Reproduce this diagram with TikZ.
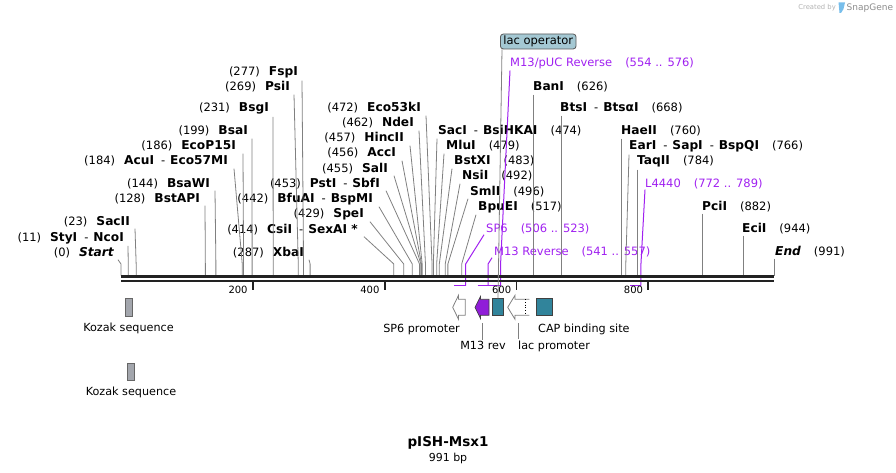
\documentclass[tikz,border=0pt]{standalone}
\usepackage{fontspec}
\setmainfont{DejaVu Sans}
\usetikzlibrary{positioning}

\definecolor{cutgray}{RGB}{128,128,128}
\definecolor{primerpurple}{RGB}{160,32,240}
\definecolor{bindteal}{RGB}{49,132,155}
\definecolor{kozakgray}{RGB}{163,166,173}
\definecolor{opfill}{RGB}{164,200,211}
\definecolor{dnablack}{RGB}{34,34,34}
\definecolor{logoblue}{RGB}{120,190,235}

% bp -> x (px)
\newcommand{\bpx}[1]{121+#1*0.659}
\newcommand{\numgap}{\hspace{9pt}}
\newcommand{\rgap}{\hspace{13pt}}
\newcommand{\dsh}{\hspace{7pt}-\hspace{5pt}}
\newcommand{\ename}[1]{{\fontsize{12.2}{13}\selectfont\bfseries #1}}

\tikzset{
  enzL/.style={font=\fontsize{11.5}{13}\selectfont, inner sep=0pt, anchor=base east},
  enzR/.style={font=\fontsize{11.5}{13}\selectfont, inner sep=0pt, anchor=base west},
  primerlbl/.style={enzR, text=primerpurple},
  cutline/.style={draw=cutgray, line width=0.8pt},
  primerline/.style={draw=primerpurple, line width=1pt},
  primerbar/.style={draw=primerpurple, line width=1.8pt},
  dna/.style={draw=dnablack, line width=2.4pt},
  rulertick/.style={draw=dnablack, line width=1.8pt},
  rulerlbl/.style={font=\fontsize{10}{12}\selectfont, inner sep=0pt, anchor=base east},
  featlbl/.style={font=\fontsize{11.2}{13}\selectfont, inner sep=0pt},
  featline/.style={draw=cutgray, line width=0.8pt},
  promoter/.style={draw=gray, fill=white, line width=0.8pt},
  bindbox/.style={draw=black!75, fill=bindteal, line width=0.7pt, inner sep=0pt, minimum height=17pt},
  kozakbox/.style={draw=black!60, fill=kozakgray, line width=0.7pt, inner sep=0pt},
  opbox/.style={draw=black!65, fill=opfill, rounded corners=3pt, line width=0.8pt,
    font=\fontsize{11.5}{13}\selectfont, inner xsep=3pt, inner ysep=0pt, minimum height=15pt}
}

\begin{document}
\begin{tikzpicture}[x=1pt,y=-1pt]
  \useasboundingbox (0,0) rectangle (896,473);

  % Cut sites on the sequence
  \coordinate (knee) at (0,264);
  \coordinate (c0) at ({\bpx{0}},275.5);
  \coordinate (c11) at ({\bpx{11}},275.5);
  \coordinate (c23) at ({\bpx{23}},275.5);
  \coordinate (c128) at ({\bpx{128}},275.5);
  \coordinate (c144) at ({\bpx{144}},275.5);
  \coordinate (c184) at ({\bpx{184}},275.5);
  \coordinate (c186) at ({\bpx{186}},275.5);
  \coordinate (c199) at ({\bpx{199}},275.5);
  \coordinate (c231) at ({\bpx{231}},275.5);
  \coordinate (c269) at ({\bpx{269}},275.5);
  \coordinate (c277) at ({\bpx{277}},275.5);
  \coordinate (c287) at ({\bpx{287}},275.5);
  \coordinate (c414) at ({\bpx{414}},275.5);
  \coordinate (c429) at ({\bpx{429}},275.5);
  \coordinate (c442) at ({\bpx{442}},275.5);
  \coordinate (c453) at ({\bpx{453}},275.5);
  \coordinate (c455) at ({\bpx{455}},275.5);
  \coordinate (c456) at ({\bpx{456}},275.5);
  \coordinate (c457) at ({\bpx{457}},275.5);
  \coordinate (c462) at ({\bpx{462}},275.5);
  \coordinate (c472) at ({\bpx{472}},275.5);
  \coordinate (c474) at ({\bpx{474}},275.5);
  \coordinate (c479) at ({\bpx{479}},275.5);
  \coordinate (c483) at ({\bpx{483}},275.5);
  \coordinate (c492) at ({\bpx{492}},275.5);
  \coordinate (c496) at ({\bpx{496}},275.5);
  \coordinate (c517) at ({\bpx{517}},275.5);
  \coordinate (c626) at ({\bpx{626}},275.5);
  \coordinate (c668) at ({\bpx{668}},275.5);
  \coordinate (c760) at ({\bpx{760}},275.5);
  \coordinate (c766) at ({\bpx{766}},275.5);
  \coordinate (c784) at ({\bpx{784}},275.5);
  \coordinate (c882) at ({\bpx{882}},275.5);
  \coordinate (c944) at ({\bpx{944}},275.5);
  \coordinate (c991) at ({\bpx{991}},275.5);

  % Primer ends
  \coordinate (p506) at ({\bpx{506}},285.5);
  \coordinate (p523) at ({\bpx{523}},285.5);
  \coordinate (p541) at ({\bpx{541}},285.5);
  \coordinate (p557) at ({\bpx{557}},285.5);
  \coordinate (p554) at ({\bpx{554}},285.5);
  \coordinate (p576) at ({\bpx{576}},285.5);
  \coordinate (p772) at ({\bpx{772}},285.5);
  \coordinate (p789) at ({\bpx{789}},285.5);

  % Enzyme labels, left of their sites
  \node[enzL] (start) at (114,256) {(0)\numgap\ename{\itshape Start}};
  \node[enzL] (styi) at (124,241) {(11)\numgap\ename{StyI}\dsh\ename{NcoI}};
  \node[enzL] (sacii) at (130,225) {(23)\numgap\ename{SacII}};
  \node[enzL] (bstapi) at (200,202) {(128)\numgap\ename{BstAPI}};
  \node[enzL] (bsawi) at (210,187) {(144)\numgap\ename{BsaWI}};
  \node[enzL] (acui) at (228,165) {(184)\numgap\ename{AcuI}\dsh\ename{Eco57MI}};
  \node[enzL] (ecop) at (236,150) {(186)\numgap\ename{EcoP15I}};
  \node[enzL] (bsai) at (248,135) {(199)\numgap\ename{BsaI}};
  \node[enzL] (bsgi) at (269,112) {(231)\numgap\ename{BsgI}};
  \node[enzL] (psii) at (290,91) {(269)\numgap\ename{PsiI}};
  \node[enzL] (fspi) at (298,76) {(277)\numgap\ename{FspI}};
  \node[enzL] (xbai) at (304,256) {(287)\numgap\ename{XbaI}};
  \node[enzL] (csii) at (358,233) {(414)\numgap\ename{CsiI}\dsh\ename{SexAI *}};
  \node[enzL] (spei) at (364,217) {(429)\numgap\ename{SpeI}};
  \node[enzL] (bfuai) at (373,202) {(442)\numgap\ename{BfuAI}\dsh\ename{BspMI}};
  \node[enzL] (psti) at (380,187) {(453)\numgap\ename{PstI}\dsh\ename{SbfI}};
  \node[enzL] (sali) at (388,172) {(455)\numgap\ename{SalI}};
  \node[enzL] (acci) at (396,157) {(456)\numgap\ename{AccI}};
  \node[enzL] (hincii) at (404,142) {(457)\numgap\ename{HincII}};
  \node[enzL] (ndei) at (414,127) {(462)\numgap\ename{NdeI}};
  \node[enzL] (ecok) at (421,112) {(472)\numgap\ename{Eco53kI}};

  % Enzyme labels, right of their sites
  \node[enzR] (saci) at (438,135) {\ename{SacI}\dsh\ename{BsiHKAI}\rgap(474)};
  \node[enzR] (mlui) at (446,150) {\ename{MluI}\rgap(479)};
  \node[enzR] (bstxi) at (454,165) {\ename{BstXI}\rgap(483)};
  \node[enzR] (nsii) at (462,180) {\ename{NsiI}\rgap(492)};
  \node[enzR] (smli) at (470,195) {\ename{SmlI}\rgap(496)};
  \node[enzR] (bpuei) at (478,210) {\ename{BpuEI}\rgap(517)};
  \node[enzR] (bani) at (533,91) {\ename{BanI}\rgap(626)};
  \node[enzR] (btsi) at (560,112) {\ename{BtsI}\dsh\ename{BtsαI}\rgap(668)};
  \node[enzR] (haeii) at (621,135) {\ename{HaeII}\rgap(760)};
  \node[enzR] (eari) at (629,150) {\ename{EarI}\dsh\ename{SapI}\dsh\ename{BspQI}\rgap(766)};
  \node[enzR] (taqii) at (637,165) {\ename{TaqII}\rgap(784)};
  \node[enzR] (pcii) at (702,210) {\ename{PciI}\rgap(882)};
  \node[enzR] (ecii) at (742,232) {\ename{EciI}\rgap(944)};
  \node[enzR] (endr) at (775,255) {\ename{\itshape End}\rgap(991)};

  % Primer labels
  \node[primerlbl] (m13puc) at (510,67) {M13/pUC Reverse\rgap(554 .. 576)};
  \node[primerlbl] (sp6) at (486,232) {SP6\rgap(506 .. 523)};
  \node[primerlbl] (m13r) at (494,255) {M13 Reverse\rgap(541 .. 557)};
  \node[primerlbl] (l4440) at (645,187) {L4440\rgap(772 .. 789)};

  % Connect the labels to the sites
  \draw[cutline] ([xshift=4pt,yshift=-2pt]start.south east) -- (c0 |- knee) -- (c0);
  \draw[cutline] ([xshift=4pt,yshift=-2pt]styi.south east) -- (c11 |- knee) -- (c11);
  \draw[cutline] ([xshift=5pt,yshift=-2pt]sacii.south east) -- (c23 |- knee) -- (c23);
  \draw[cutline] ([xshift=5pt,yshift=-2pt]bstapi.south east) -- (c128 |- knee) -- (c128);
  \draw[cutline] ([xshift=5pt,yshift=-2pt]bsawi.south east) -- (c144 |- knee) -- (c144);
  \draw[cutline] ([xshift=6pt,yshift=-2pt]acui.south east) -- (c184 |- knee) -- (c184);
  \draw[cutline] ([xshift=7pt,yshift=-2pt]ecop.south east) -- (c186 |- knee) -- (c186);
  \draw[cutline] ([xshift=4pt,yshift=-2pt]bsai.south east) -- (c199 |- knee) -- (c199);
  \draw[cutline] ([xshift=4pt,yshift=-2pt]bsgi.south east) -- (c231 |- knee) -- (c231);
  \draw[cutline] ([xshift=4pt,yshift=-2pt]psii.south east) -- (c269 |- knee) -- (c269);
  \draw[cutline] ([xshift=4pt,yshift=-2pt]fspi.south east) -- (c277 |- knee) -- (c277);
  \draw[cutline] ([xshift=5pt,yshift=-2pt]xbai.south east) -- (c287 |- knee) -- (c287);
  \draw[cutline] ([xshift=6pt,yshift=-2pt]csii.south east) -- (c414 |- knee) -- (c414);
  \draw[cutline] ([xshift=6pt,yshift=-2pt]spei.south east) -- (c429 |- knee) -- (c429);
  \draw[cutline] ([xshift=6pt,yshift=-2pt]bfuai.south east) -- (c442 |- knee) -- (c442);
  \draw[cutline] ([xshift=6pt,yshift=-2pt]psti.south east) -- (c453 |- knee) -- (c453);
  \draw[cutline] ([xshift=6pt,yshift=-2pt]sali.south east) -- (c455 |- knee) -- (c455);
  \draw[cutline] ([xshift=6pt,yshift=-2pt]acci.south east) -- (c456 |- knee) -- (c456);
  \draw[cutline] ([xshift=6pt,yshift=-2pt]hincii.south east) -- (c457 |- knee) -- (c457);
  \draw[cutline] ([xshift=5pt,yshift=-2pt]ndei.south east) -- (c462 |- knee) -- (c462);
  \draw[cutline] ([xshift=5pt,yshift=-2pt]ecok.south east) -- (c472 |- knee) -- (c472);
  \draw[cutline] ([xshift=-1pt,yshift=-2pt]saci.south west) -- (c474 |- knee) -- (c474);
  \draw[cutline] ([xshift=-2pt,yshift=-2pt]mlui.south west) -- (c479 |- knee) -- (c479);
  \draw[cutline] ([xshift=-2pt,yshift=-2pt]bstxi.south west) -- (c483 |- knee) -- (c483);
  \draw[cutline] ([xshift=-2pt,yshift=-2pt]nsii.south west) -- (c492 |- knee) -- (c492);
  \draw[cutline] ([xshift=-2pt,yshift=-2pt]smli.south west) -- (c496 |- knee) -- (c496);
  \draw[cutline] ([xshift=-2pt,yshift=-2pt]bpuei.south west) -- (c517 |- knee) -- (c517);
  \draw[cutline] (c626 |- bani.south) ++(0,2) -- (c626);
  \draw[cutline] (c668 |- btsi.south) ++(0,2) -- (c668);
  \draw[cutline] (c760 |- haeii.south) ++(0,2) -- (c760);
  \draw[cutline] ([xshift=0pt,yshift=-2pt]eari.south west) -- (c766 |- knee) -- (c766);
  \draw[cutline] (c784 |- taqii.south) ++(0,2) -- (c784);
  \draw[cutline] (c882 |- pcii.south) ++(0,2) -- (c882);
  \draw[cutline] (c944 |- ecii.south) ++(0,2) -- (c944);
  \draw[cutline] (c991 |- endr.south) ++(0,2) -- (c991);

  % Primers
  \draw[primerbar] (p506) -- (p523);
  \draw[primerbar] (p541) -- (p557);
  \draw[primerbar] (p554) -- (p576);
  \draw[primerbar] (p772) -- (p789);
  \draw[primerline] (p523) -- (p523 |- knee) -- ([xshift=-2pt,yshift=-1pt]sp6.south west);
  \draw[primerline] (p557) -- (p557 |- knee) -- ([xshift=-2pt,yshift=-1pt]m13r.south west);
  \draw[primerline] (p576) -- (p576 |- knee) -- ([yshift=-1pt]m13puc.south west);
  \draw[primerline] (p789) -- (p789 |- knee) -- ([yshift=-1pt]l4440.south west);

  % Sequence and ruler
  \draw[dna] (121,276.5) -- (774.1,276.5);
  \draw[dna] (121,281) -- (774.1,281);
  \coordinate (t200) at ({\bpx{200}},282);
  \coordinate (t400) at ({\bpx{400}},282);
  \coordinate (t600) at ({\bpx{600}},282);
  \coordinate (t800) at ({\bpx{800}},282);
  \draw[rulertick] (t200) -- ++(0,7.5);
  \draw[rulertick] (t400) -- ++(0,7.5);
  \draw[rulertick] (t600) -- ++(0,7.5);
  \draw[rulertick] (t800) -- ++(0,7.5);
  \node[rulerlbl] (r200) at ([xshift=-5pt]t200 |- 0,293) {200};
  \node[rulerlbl] (r400) at ([xshift=-5pt]t400 |- 0,293) {400};
  \node[rulerlbl] (r600) at ([xshift=-5pt]t600 |- 0,293) {600};
  \node[rulerlbl] (r800) at ([xshift=-5pt]t800 |- 0,293) {800};

  % Features
  \node[kozakbox, minimum width=7pt, minimum height=18pt] (kozakA) at (128.5,307) {};
  \node[featlbl, below=6pt of kozakA] (kozakAlbl) {Kozak sequence};
  \node[kozakbox, minimum width=6.5pt, minimum height=17pt] (kozakB) at (131,371.5) {};
  \node[featlbl, below=6pt of kozakB] (kozakBlbl) {Kozak sequence};

  \draw[promoter] (452.7,307.3) -- (458.5,295.3) -- (458.5,299.3) -- (465.3,299.3)
    -- (465.3,315.3) -- (458.5,315.3) -- (458.5,319.3) -- cycle;
  \draw[draw=black!75, fill=primerpurple!90!black, line width=0.7pt] (475,307.3) -- (480.5,296.5)
    -- (480.5,299.3) -- (489,299.3) -- (489,315.3) -- (480.5,315.3) -- (480.5,318.5) -- cycle;
  \node[bindbox, minimum width=10.6pt] (lacopbox) at (498,307.3) {};
  \draw[promoter] (529.3,299.3) -- (515,299.3) -- (515,295.3) -- (507.7,307.3)
    -- (515,319.3) -- (515,315.3) -- (529.3,315.3);
  \draw[draw=black, line width=0.7pt, dotted] (525,299.3) -- (525,315.3);
  \node[bindbox, minimum width=16pt] (capbox) at (544.7,307.3) {};

  \node[featlbl, anchor=base east] (sp6lbl) at (460,332) {SP6 promoter};
  \node[featlbl, anchor=base west] (caplbl) at (538,332) {CAP binding site};
  \node[featlbl, anchor=base] (m13revlbl) at (483,349) {M13 rev};
  \node[featlbl, anchor=base west] (lacpromlbl) at (518,349) {lac promoter};
  \coordinate (m13revtip) at (482,323);
  \coordinate (lacpromtip) at (518,323);
  \draw[featline] (m13revtip) -- (m13revtip |- m13revlbl.north);
  \draw[featline] (lacpromtip) -- ([yshift=1pt]lacpromtip |- lacpromlbl.north);

  \node[opbox, anchor=west] (lacop) at (500,41.5) {lac operator};
  \draw[featline] ([xshift=2pt]lacop.south west) -- (lacopbox.north);

  % Title
  \node[font=\bfseries\fontsize{13.5}{16}\selectfont, inner sep=0pt, anchor=base] (title) at (448,446) {pISH-Msx1};
  \node[font=\fontsize{11}{13}\selectfont, inner sep=0pt, anchor=base] (bplen) at (448,461) {991 bp};

  % Credit
  \node[font=\fontsize{6.8}{8}\selectfont, text=black!30, inner sep=0pt, anchor=base east] (createdby) at (836,10) {Created by};
  \fill[logoblue] (838.5,2.5) -- (845,2.5) -- (843.5,9) -- (841,13) -- (839.5,13) -- cycle;
  \node[font=\fontsize{9}{10}\selectfont, text=black!45, inner sep=0pt, anchor=base west] (snapgene) at (846.5,11) {SnapGene};
\end{tikzpicture}
\end{document}
